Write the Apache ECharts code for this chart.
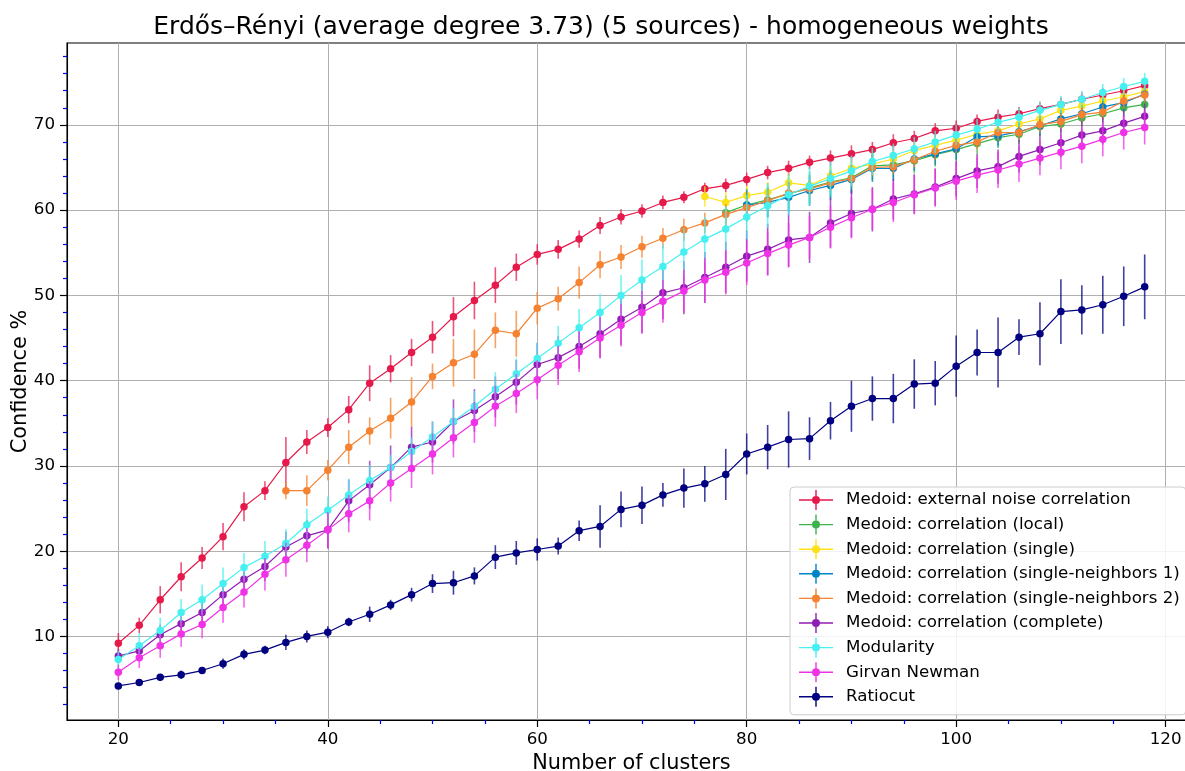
<!DOCTYPE html>
<html>
<head>
<meta charset="utf-8">
<script src="https://cdn.jsdelivr.net/npm/echarts@6/dist/echarts.min.js"></script>
<style>html,body{margin:0;padding:0;background:#fff}#c{width:1185px;height:771px}</style>
</head>
<body>
<div id="c"></div>
<script>
const xValues = [20,22,24,26,28,30,32,34,36,38,40,42,44,46,48,50,52,54,56,58,60,62,64,66,68,70,72,74,76,78,80,82,84,86,88,90,92,94,96,98,100,102,104,106,108,110,112,114,116,118];

const extNoise = [9.2,11.3,14.3,17.0,19.2,21.7,25.2,27.1,30.4,32.8,34.5,36.6,39.7,41.4,43.3,45.1,47.5,49.4,51.2,53.3,54.8,55.4,56.6,58.2,59.2,59.9,60.9,61.5,62.5,62.9,63.6,64.4,64.9,65.6,66.1,66.6,67.1,67.9,68.4,69.3,69.6,70.4,70.9,71.3,71.9,72.4,73.0,73.5,74.0,74.6];
const extNoiseErr = [1.2,0.9,1.6,1.7,1.3,1.6,1.7,1.1,3.0,1.4,1.1,1.6,2.1,1.6,1.6,1.9,2.3,2.2,2.1,1.6,1.2,1.1,1.0,1.0,0.9,0.8,0.8,0.7,0.7,0.8,0.8,0.8,0.9,0.8,0.9,1.0,0.9,1.0,0.9,0.9,0.9,0.8,0.9,0.8,0.8,0.8,0.8,0.8,0.8,0.8];

const corrLocal = [null,null,null,null,null,null,null,null,null,null,null,null,null,null,null,null,null,null,null,null,null,null,null,null,null,null,null,null,null,59.7,60.6,61.2,61.9,62.6,63.3,63.8,65.2,65.3,65.8,66.5,67.1,67.8,68.5,68.9,69.8,70.1,70.8,71.3,72.0,72.4];
const corrLocalErr = [null,null,null,null,null,null,null,null,null,null,null,null,null,null,null,null,null,null,null,null,null,null,null,null,null,null,null,null,null,2.0,2.0,2.0,2.0,1.9,1.9,1.8,1.7,1.6,1.5,1.4,1.3,1.2,1.2,1.1,1.1,1.0,1.0,1.0,1.0,1.0];

const corrSingle = [null,null,null,null,null,null,null,null,null,null,null,null,null,null,null,null,null,null,null,null,null,null,null,null,null,null,null,null,61.6,60.9,61.7,62.1,63.2,62.9,64.0,64.9,65.4,66.0,67.0,67.6,68.2,68.9,69.3,70.1,70.7,71.7,72.2,72.8,73.3,73.9];
const corrSingleErr = [null,null,null,null,null,null,null,null,null,null,null,null,null,null,null,null,null,null,null,null,null,null,null,null,null,null,null,null,1.2,1.2,1.2,1.2,1.2,1.1,1.1,1.1,1.0,1.0,1.0,1.0,1.0,1.0,0.9,0.9,0.9,0.9,0.9,0.9,0.9,0.9];

const corrSN1 = [null,null,null,null,null,null,null,null,null,null,null,null,null,null,null,null,null,null,null,null,null,null,null,null,null,null,null,null,null,null,60.6,60.9,61.5,62.3,62.9,63.6,64.9,64.9,66.0,66.6,67.2,68.6,68.7,69.2,69.9,70.7,71.3,72.1,72.6,73.6];
const corrSN1Err = [null,null,null,null,null,null,null,null,null,null,null,null,null,null,null,null,null,null,null,null,null,null,null,null,null,null,null,null,null,null,1.8,1.8,1.8,1.8,1.7,1.7,1.6,1.5,1.4,1.3,1.3,1.2,1.2,1.1,1.1,1.0,1.0,1.0,1.0,1.0];

const corrSN2 = [null,null,null,null,null,null,null,null,27.1,27.1,29.5,32.2,34.1,35.6,37.5,40.5,42.1,43.1,45.9,45.5,48.5,49.6,51.5,53.6,54.5,55.7,56.7,57.7,58.5,59.5,60.3,61.1,62.0,62.5,63.2,63.7,65.0,65.1,65.9,66.9,67.6,68.0,69.1,69.1,70.0,70.4,71.2,71.5,72.8,73.5];
const corrSN2Err = [null,null,null,null,null,null,null,null,1.0,1.8,1.2,2.0,1.6,2.4,2.9,1.5,2.8,2.9,2.1,2.7,1.9,1.4,1.9,1.6,1.4,1.3,1.2,1.3,1.2,1.2,1.1,1.0,1.0,1.0,0.9,0.9,1.0,0.9,0.9,1.0,0.9,0.9,1.0,0.9,0.9,0.9,0.9,0.9,0.9,0.9];

const corrComplete = [7.7,8.3,10.2,11.5,12.8,14.9,16.7,18.2,20.5,21.8,22.5,25.9,27.8,29.8,32.2,32.8,35.2,36.5,38.1,39.8,41.9,42.7,44.0,45.5,47.2,48.6,50.3,50.9,52.1,53.3,54.6,55.4,56.5,56.8,58.5,59.6,60.1,61.3,61.9,62.7,63.7,64.6,65.1,66.3,67.1,67.9,68.8,69.3,70.2,71.0];
const corrCompleteErr = [0.8,1.0,1.2,1.3,1.5,1.6,1.6,1.7,1.8,1.9,2.2,2.5,2.8,2.6,2.4,2.4,2.6,2.5,2.4,2.6,2.5,2.5,2.6,2.8,3.0,3.0,3.1,3.1,3.0,3.0,3.0,3.0,3.2,3.0,2.9,2.8,2.6,2.4,2.3,2.2,2.1,2.0,2.0,1.9,1.8,1.7,1.6,1.6,1.5,1.5];

const modularity = [7.3,8.9,10.7,12.8,14.3,16.2,18.1,19.4,20.9,23.1,24.8,26.6,28.3,29.8,31.7,33.4,35.2,37.0,39.0,40.8,42.6,44.4,46.2,48.0,50.0,51.8,53.4,55.1,56.6,57.8,59.2,60.5,61.8,62.8,63.7,64.6,65.7,66.4,67.2,68.0,68.8,69.5,70.3,70.9,71.7,72.4,73.0,73.8,74.5,75.1];
const modularityErr = [1.0,1.5,1.5,1.6,1.8,1.9,1.7,1.8,1.7,1.9,1.6,1.9,1.8,1.5,1.6,1.8,1.6,1.8,2.0,1.8,1.9,2.0,2.2,2.2,2.4,2.4,2.6,2.8,2.6,2.6,2.6,2.6,2.4,2.2,2.0,1.8,1.6,1.4,1.4,1.3,1.2,1.2,1.1,1.1,1.0,1.0,1.0,1.0,1.0,1.0];

const girvanNewman = [5.8,7.5,8.9,10.3,11.4,13.4,15.2,17.3,19.0,20.7,22.5,24.4,25.9,28.0,29.7,31.4,33.3,35.1,37.0,38.5,40.1,41.8,43.4,45.0,46.5,48.0,49.3,50.5,51.8,52.7,53.8,54.9,55.9,56.8,58.0,59.1,60.1,60.9,61.8,62.6,63.4,64.1,64.7,65.4,66.1,66.8,67.5,68.3,69.1,69.7];
const girvanNewmanErr = [0.9,1.2,1.4,1.5,1.6,1.8,1.8,1.9,2.0,2.0,2.1,2.2,2.3,2.2,2.3,2.4,2.3,2.4,2.4,2.3,2.3,2.3,2.4,2.4,2.5,2.5,2.5,2.5,2.6,2.6,2.6,2.6,2.6,2.5,2.5,2.4,2.4,2.3,2.3,2.2,2.2,2.1,2.1,2.1,2.0,2.0,2.0,2.0,2.0,2.0];

const ratiocut = [4.2,4.6,5.2,5.5,6.0,6.8,7.9,8.4,9.3,10.0,10.5,11.7,12.6,13.7,14.9,16.2,16.3,17.1,19.3,19.8,20.2,20.6,22.4,22.9,24.9,25.4,26.6,27.4,27.9,29.0,31.4,32.2,33.1,33.2,35.3,37.0,37.9,37.9,39.6,39.7,41.7,43.3,43.3,45.1,45.5,48.1,48.3,48.9,49.9,51.0];
const ratiocutErr = [0.3,0.3,0.4,0.5,0.4,0.6,0.6,0.5,0.9,0.7,0.7,0.5,0.9,0.6,0.8,1.1,1.4,1.0,1.4,1.4,1.3,1.0,1.2,2.5,2.1,2.2,1.4,2.3,2.1,3.0,2.4,2.6,3.3,2.5,2.2,3.0,2.6,2.9,2.9,2.6,3.6,2.7,4.1,2.1,3.7,3.8,2.9,3.4,3.5,3.8];

const seriesNames = ['Medoid: external noise correlation','Medoid: correlation (local)','Medoid: correlation (single)','Medoid: correlation (single-neighbors 1)','Medoid: correlation (single-neighbors 2)','Medoid: correlation (complete)','Modularity','Girvan Newman','Ratiocut'];
const seriesColors = ['#e6194b','#3cb44b','#ffe119','#0082c8','#f58231','#911eb4','#46f0f0','#f032e6','#000080'];
const seriesValues = [extNoise,corrLocal,corrSingle,corrSN1,corrSN2,corrComplete,modularity,girvanNewman,ratiocut];
const seriesErrors = [extNoiseErr,corrLocalErr,corrSingleErr,corrSN1Err,corrSN2Err,corrCompleteErr,modularityErr,girvanNewmanErr,ratiocutErr];

const xMajorTicks = [20,40,60,80,100,120];
const xMinorTicks = [15,25,30,35,45,50,55,65,70,75,85,90,95,105,110,115];
const yMajorTicks = [10,20,30,40,50,60,70];
const yMinorTicks = [2,4,6,8,12,14,16,18,22,24,26,28,32,34,36,38,42,44,46,48,52,54,56,58,62,64,66,68,72,74,76,78];

const FONT = 'DejaVu Sans';
const X_MIN = 15.1, X_MAX = 122.9, Y_MIN = 0.2, Y_MAX = 79.6;

const legendIcon = 'path://M0,9.3 L34,9.3 L34,10.7 L0,10.7 Z M16.3,0 L17.7,0 L17.7,20 L16.3,20 Z M17,6 A4,4 0 1 1 16.99,6 Z';

const series = [];
seriesNames.forEach((name, k) => {
  const vals = seriesValues[k], errs = seriesErrors[k], color = seriesColors[k];
  const pts = [], ebs = [];
  xValues.forEach((x, i) => {
    if (vals[i] !== null && vals[i] !== undefined) {
      pts.push([x, vals[i]]);
      ebs.push([x, vals[i], errs[i]]);
    }
  });
  series.push({
    type: 'custom',
    xAxisIndex: 0, yAxisIndex: 0,
    z: 10 + k * 2,
    silent: true,
    clip: true,
    encode: { x: 0, y: 1 },
    data: ebs,
    renderItem: function (params, api) {
      const x = api.value(0), y = api.value(1), e = api.value(2);
      const p1 = api.coord([x, y - e]);
      const p2 = api.coord([x, y + e]);
      return { type: 'line', shape: { x1: p1[0], y1: p1[1], x2: p2[0], y2: p2[1] },
               style: { stroke: color, lineWidth: 1.6, opacity: 0.75 } };
    }
  });
  series.push({
    name: name,
    type: 'line',
    xAxisIndex: 0, yAxisIndex: 0,
    z: 11 + k * 2,
    data: pts,
    symbol: 'circle',
    symbolSize: 7.5,
    showSymbol: true,
    lineStyle: { color: color, width: 1.2 },
    itemStyle: { color: color },
    emphasis: { disabled: true }
  });
});

const chart = echarts.init(document.getElementById('c'), null, { renderer: 'canvas' });
chart.setOption({
  animation: false,
  backgroundColor: '#ffffff',
  textStyle: { fontFamily: FONT },
  title: {
    text: 'Erdős–Rényi (average degree 3.73) (5 sources) - homogeneous weights',
    left: 596, top: 10, textAlign: 'center',
    textStyle: { fontFamily: FONT, fontSize: 25, fontWeight: 'normal', color: '#000' }
  },
  grid: { left: 67, top: 43, width: 1129, height: 677, show: true, borderColor: '#000', borderWidth: 1.1, backgroundColor: 'transparent', containLabel: false, outerBoundsMode: 'none' },
  legend: {
    orient: 'vertical',
    left: 790, top: 487,
    padding: [3, 6, 8, 9],
    itemWidth: 34, itemHeight: 20, itemGap: 4.6,
    backgroundColor: 'rgba(255,255,255,0.85)',
    borderColor: '#cccccc', borderWidth: 1, borderRadius: 4,
    selectedMode: false,
    textStyle: { fontFamily: FONT, fontSize: 16.7, color: '#000', padding: [0, 0, 0, 8] },
    data: seriesNames.map(n => ({ name: n, icon: legendIcon }))
  },
  xAxis: [{
    type: 'value', min: X_MIN, max: X_MAX, position: 'bottom',
    name: 'Number of clusters', nameLocation: 'middle', nameGap: 28,
    nameTextStyle: { fontFamily: FONT, fontSize: 20.8, color: '#000' },
    axisLine: { show: true, onZero: false, lineStyle: { color: '#000', width: 1.1 } },
    axisTick: { show: true, length: 7, lineStyle: { color: '#000', width: 1.2 }, customValues: xMajorTicks },
    axisLabel: { show: true, margin: 11, fontFamily: FONT, fontSize: 16.7, color: '#000', customValues: xMajorTicks },
    splitLine: { show: true, lineStyle: { color: '#b0b0b0', width: 1 } }
  }, {
    type: 'value', min: X_MIN, max: X_MAX, position: 'bottom', gridIndex: 0,
    axisLine: { show: false, onZero: false },
    axisTick: { show: true, length: 4, lineStyle: { color: '#0000ff', width: 1.2 }, customValues: xMinorTicks },
    axisLabel: { show: false, customValues: xMinorTicks },
    splitLine: { show: false }
  }],
  yAxis: [{
    type: 'value', min: Y_MIN, max: Y_MAX, position: 'left',
    name: 'Confidence %', nameLocation: 'middle', nameGap: 36, nameRotate: 90, nameMoveOverlap: false,
    nameTextStyle: { fontFamily: FONT, fontSize: 20.8, color: '#000' },
    axisLine: { show: true, onZero: false, lineStyle: { color: '#000', width: 1.1 } },
    axisTick: { show: true, length: 7, lineStyle: { color: '#000', width: 1.2 }, customValues: yMajorTicks },
    axisLabel: { show: true, margin: 12, fontFamily: FONT, fontSize: 16.7, color: '#000', customValues: yMajorTicks },
    splitLine: { show: true, lineStyle: { color: '#b0b0b0', width: 1 } }
  }, {
    type: 'value', min: Y_MIN, max: Y_MAX, position: 'left', gridIndex: 0,
    axisLine: { show: false, onZero: false },
    axisTick: { show: true, length: 4, lineStyle: { color: '#0000ff', width: 1.2 }, customValues: yMinorTicks },
    axisLabel: { show: false, customValues: yMinorTicks },
    splitLine: { show: false }
  }],
  series: series
});
</script>
</body>
</html>
